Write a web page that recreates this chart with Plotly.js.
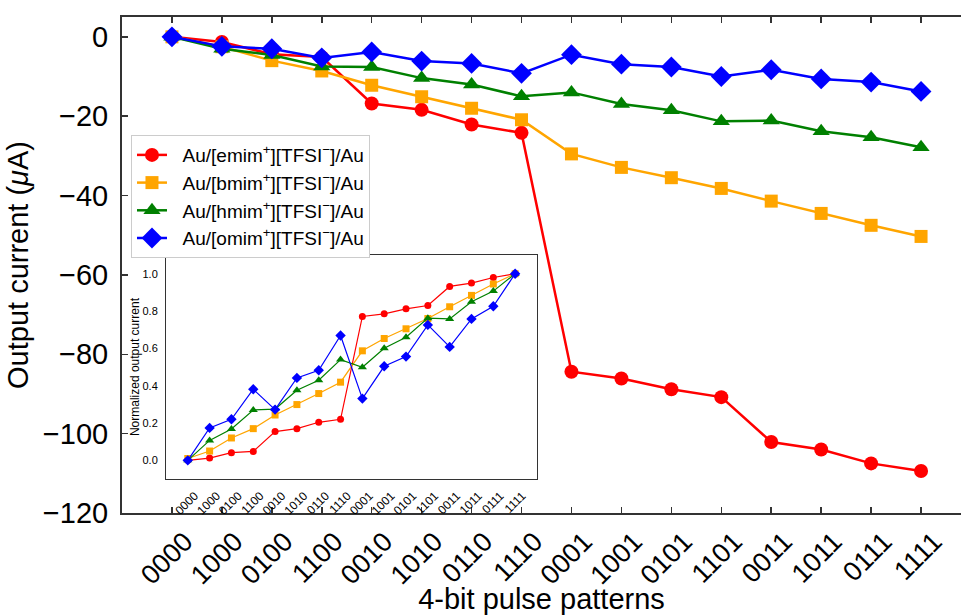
<!DOCTYPE html>
<html>
<head>
<meta charset="utf-8">
<script src="https://cdn.plot.ly/plotly-3.0.1.min.js"></script>
<style>html,body{margin:0;padding:0;overflow:hidden;background:#fff;}</style>
</head>
<body>
<div id="chart" style="width:961px;height:615px;"></div>
<script>
const patterns = ['0000','1000','0100','1100','0010','1010','0110','1110','0001','1001','0101','1101','0011','1011','0111','1111'];
const seriesNames = ['Au/[emim<sup>+</sup>][TFSI<sup>−</sup>]/Au','Au/[bmim<sup>+</sup>][TFSI<sup>−</sup>]/Au','Au/[hmim<sup>+</sup>][TFSI<sup>−</sup>]/Au','Au/[omim<sup>+</sup>][TFSI<sup>−</sup>]/Au'];
const emim = [0, -1.3, -4.4, -5.1, -16.8, -18.4, -22.1, -24.2, -84.4, -86.1, -88.8, -90.8, -102.1, -104.0, -107.5, -109.4];
const bmim = [0, -2.5, -6.0, -8.6, -12.2, -15.1, -18.0, -20.9, -29.5, -32.9, -35.5, -38.2, -41.4, -44.5, -47.5, -50.3];
const hmim = [0, -3.0, -4.6, -7.45, -7.6, -10.4, -12.0, -15.0, -14.0, -16.9, -18.5, -21.3, -21.1, -23.8, -25.3, -27.8];
const omim = [0, -2.4, -3.0, -5.3, -3.8, -6.1, -6.7, -9.2, -4.5, -6.9, -7.6, -10.0, -8.3, -10.6, -11.4, -13.75];
const emimNorm = [0, 0.012, 0.041, 0.048, 0.154, 0.170, 0.204, 0.220, 0.771, 0.785, 0.812, 0.830, 0.932, 0.950, 0.980, 1.0];
const bmimNorm = [0.01, 0.050, 0.120, 0.170, 0.243, 0.299, 0.358, 0.419, 0.587, 0.653, 0.705, 0.760, 0.823, 0.884, 0.945, 1.0];
const hmimNorm = [0, 0.107, 0.168, 0.270, 0.275, 0.376, 0.429, 0.540, 0.499, 0.601, 0.660, 0.762, 0.758, 0.850, 0.907, 1.0];
const omimNorm = [0, 0.174, 0.220, 0.381, 0.272, 0.442, 0.483, 0.669, 0.331, 0.504, 0.556, 0.726, 0.608, 0.758, 0.826, 1.0];
const yTicks = [0, -20, -40, -60, -80, -100, -120];
const yTicksInset = [0, 0.2, 0.4, 0.6, 0.8, 1.0];

const colors = ['#ff0000', '#ffa500', '#008000', '#0000ff'];
const symbols = ['circle', 'square', 'triangle-up', 'diamond'];
const sizes = [14, 13, 15, 16];
const insetSizes = [7, 7, 8, 8];
const mainData = [emim, bmim, hmim, omim];
const normData = [emimNorm, bmimNorm, hmimNorm, omimNorm];
const FONT = 'Liberation Sans, Arial, Helvetica, sans-serif';

const traces = [];
mainData.forEach((ys, i) => {
  traces.push({
    x: patterns, y: ys, name: '\u00a0\u00a0' + seriesNames[i], type: 'scatter', mode: 'lines+markers',
    line: {color: colors[i], width: 2.5},
    marker: {color: colors[i], symbol: symbols[i], size: sizes[i]},
    xaxis: 'x', yaxis: 'y'
  });
});
normData.forEach((ys, i) => {
  traces.push({
    x: patterns, y: ys, name: seriesNames[i], type: 'scatter', mode: 'lines+markers',
    line: {color: colors[i], width: 1.2},
    marker: {color: colors[i], symbol: symbols[i], size: insetSizes[i]},
    xaxis: 'x2', yaxis: 'y2', showlegend: false
  });
});

const layout = {
  width: 961, height: 615,
  margin: {l: 122, r: 0, t: 17, b: 102},
  paper_bgcolor: '#ffffff', plot_bgcolor: '#ffffff',
  font: {family: FONT, color: '#000', size: 14},
  showlegend: true,
  legend: {
    x: 0.0107, y: 0.762, xanchor: 'left', yanchor: 'top',
    bgcolor: '#ffffff', bordercolor: '#cccccc', borderwidth: 1,
    font: {size: 19, family: FONT, color: '#000'},
    tracegroupgap: 0
  },
  xaxis: {
    type: 'category', categoryorder: 'array', categoryarray: patterns,
    range: [-1, 15.8],
    showgrid: false, zeroline: false,
    showline: true, linecolor: '#333', linewidth: 2, mirror: 'ticks',
    ticks: 'inside', ticklen: 6, tickwidth: 1.5, tickcolor: '#333',
    tickangle: -45, tickfont: {size: 27, family: FONT, color: '#000'},
    ticklabelshift: 13, ticklabelstandoff: 0,
    title: {text: '4-bit pulse patterns', font: {size: 29, family: FONT, color: '#000'}, standoff: 8}
  },
  yaxis: {
    range: [-120, 5], tickvals: yTicks,
    showgrid: false, zeroline: false,
    showline: true, linecolor: '#333', linewidth: 2,
    ticks: 'inside', ticklen: 6, tickwidth: 1.5, tickcolor: '#333',
    tickfont: {size: 29, family: FONT, color: '#000'},
    ticklabelstandoff: 6,
    title: {text: 'Output current (<i>μ</i>A)', font: {size: 29, family: FONT, color: '#000'}, standoff: 6}
  },
  xaxis2: {
    domain: [0.0524, 0.4946], anchor: 'y2',
    type: 'category', categoryorder: 'array', categoryarray: patterns,
    range: [-1, 16],
    showgrid: false, zeroline: false,
    showline: true, linecolor: '#333', linewidth: 1, mirror: true,
    ticks: '', tickangle: -45, tickfont: {size: 12, family: FONT, color: '#000'},
    ticklabelshift: 7, ticklabelstandoff: 4
  },
  yaxis2: {
    domain: [0.0685, 0.520], anchor: 'x2',
    range: [-0.1, 1.1], tickvals: yTicksInset, tickformat: '.1f',
    showgrid: false, zeroline: false,
    showline: true, linecolor: '#333', linewidth: 1, mirror: true,
    ticks: '', tickfont: {size: 11, family: FONT, color: '#000'},
    ticklabelstandoff: 5,
    title: {text: 'Normalized output current', font: {size: 12, family: FONT, color: '#000'}, standoff: 0}
  }
};

Plotly.newPlot('chart', traces, layout, {displayModeBar: false, staticPlot: true});
</script>
</body>
</html>
